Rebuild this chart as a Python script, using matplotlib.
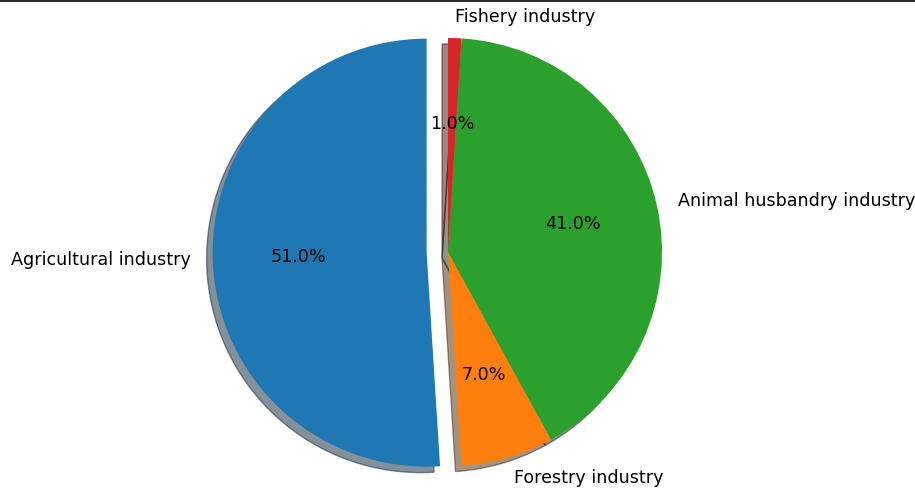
import matplotlib.pyplot as plt
from matplotlib.lines import Line2D

labels = ['Agricultural industry', 'Forestry industry',
          'Animal husbandry industry', 'Fishery industry']
shares = [51, 7, 41, 1]
explode = [0.1, 0, 0, 0]

W, H = 915, 488
cx, cy, r = 448, 252, 214  # pie centre and radius in pixels

fig = plt.figure(figsize=(W / 100, H / 100), dpi=100)
ax = fig.add_axes([0, 0, 1, 1])
ax.pie(shares, labels=labels, explode=explode, autopct='%1.1f%%',
       shadow=True, startangle=90, textprops={'fontsize': 12.6})
ax.set_aspect('equal')
ax.set_xlim(-cx / r, (W - cx) / r)
ax.set_ylim(-(H - cy) / r, cy / r)
ax.axis('off')

# thin rule along the top edge
fig.add_artist(Line2D([0, 1], [0.997, 0.997], transform=fig.transFigure,
                      color='black', linewidth=1.2))

fig.savefig('out.png', dpi=100)
